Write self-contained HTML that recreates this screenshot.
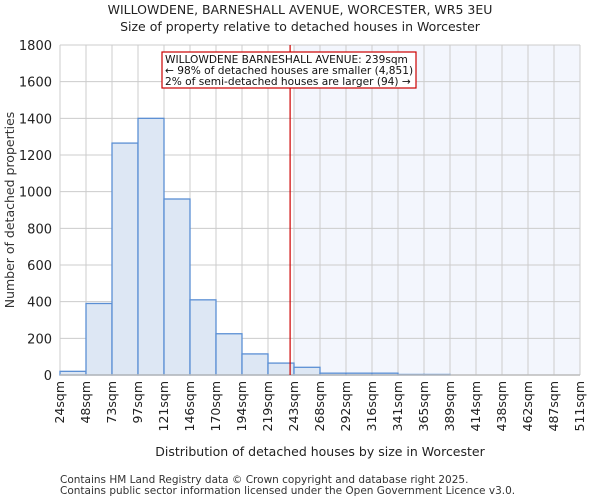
<!DOCTYPE html>
<html><head><meta charset="utf-8"><style>
body{margin:0;background:#fff;font-family:"DejaVu Sans","Liberation Sans",sans-serif}
</style></head><body>
<svg id="chart" width="600" height="500" xmlns="http://www.w3.org/2000/svg" font-family="DejaVu Sans, Liberation Sans, sans-serif">
<text x="300" y="14" text-anchor="middle" font-size="12.5" fill="#222">WILLOWDENE, BARNESHALL AVENUE, WORCESTER, WR5 3EU</text>
<text x="300" y="31" text-anchor="middle" font-size="12.5" fill="#222">Size of property relative to detached houses in Worcester</text>
<g id="plot"></g>
<text transform="translate(14,210) rotate(-90)" text-anchor="middle" font-size="12.5" fill="#333">Number of detached properties</text>
<text x="320" y="456" text-anchor="middle" font-size="12.5" fill="#222">Distribution of detached houses by size in Worcester</text>
<text x="60" y="483" font-size="10.5" fill="#333">Contains HM Land Registry data © Crown copyright and database right 2025.</text>
<text x="60" y="494" font-size="10.5" fill="#333">Contains public sector information licensed under the Open Government Licence v3.0.</text>
</svg>
<script>
const tickLabels=["24sqm","48sqm","73sqm","97sqm","121sqm","146sqm","170sqm","194sqm","219sqm","243sqm","268sqm","292sqm","316sqm","341sqm","365sqm","389sqm","414sqm","438sqm","462sqm","487sqm","511sqm"];
const counts=[20,390,1265,1400,960,410,225,115,65,42,10,10,10,3,3,0,0,0,0,0];
const yTicks=[0,200,400,600,800,1000,1200,1400,1600,1800];
const markerBin=8.85;
const NS="http://www.w3.org/2000/svg";
const L=60,R=580,T=45,B=375,YMAX=1800;
const nb=counts.length;
const xs=i=>L+(R-L)*i/nb;
const ys=v=>B-(B-T)*v/YMAX;
const g=document.getElementById('plot');
function mk(t,a){const e=document.createElementNS(NS,t);for(const k in a)e.setAttribute(k,a[k]);g.appendChild(e);return e;}
let e;
e=mk('rect',{x:xs(Math.ceil(markerBin)),y:T,width:R-xs(Math.ceil(markerBin)),height:B-T,fill:'#f3f6fd'});


yTicks.forEach(v=>{
 e=mk('line',{x1:L,x2:R,y1:ys(v),y2:ys(v),stroke:'#cccccc','stroke-width':1});
 
 
 e=mk('text',{x:L-8,y:ys(v)+5,'text-anchor':'end','font-size':13,fill:'#222'});
 e.textContent=v;
 
 
});
tickLabels.forEach((t,i)=>{
 e=mk('line',{x1:xs(i),x2:xs(i),y1:T,y2:B,stroke:'#cccccc','stroke-width':1});
 
 
 e=mk('text',{transform:`translate(${xs(i)+4},381) rotate(-90)`,'text-anchor':'end','font-size':12.5,fill:'#222'});
 e.textContent=t;
 
 
});
counts.forEach((c,i)=>{
 if(c<=0)return;
 e=mk('rect',{x:xs(i),y:ys(c),width:xs(i+1)-xs(i),height:B-ys(c),fill:'#dde7f4',stroke:'#5b8fd4','stroke-width':1.3});
 
 
});
e=mk('line',{x1:L,x2:R,y1:B,y2:B,stroke:'#bbbbbb','stroke-width':1.5});


const mx=xs(markerBin);
e=mk('line',{x1:mx,x2:mx,y1:T,y2:B,stroke:'#cc0000','stroke-width':1.2});


e=mk('rect',{x:162,y:52,width:254,height:36,fill:'#fff',stroke:'#cc0000','stroke-width':1.2});


["WILLOWDENE BARNESHALL AVENUE: 239sqm","← 98% of detached houses are smaller (4,851)","2% of semi-detached houses are larger (94) →"].forEach((s,i)=>{
 e=mk('text',{x:165,y:63+i*11,'font-size':10.6,fill:'#111'});
 e.textContent=s;
 
 
});
</script>
</body></html>
